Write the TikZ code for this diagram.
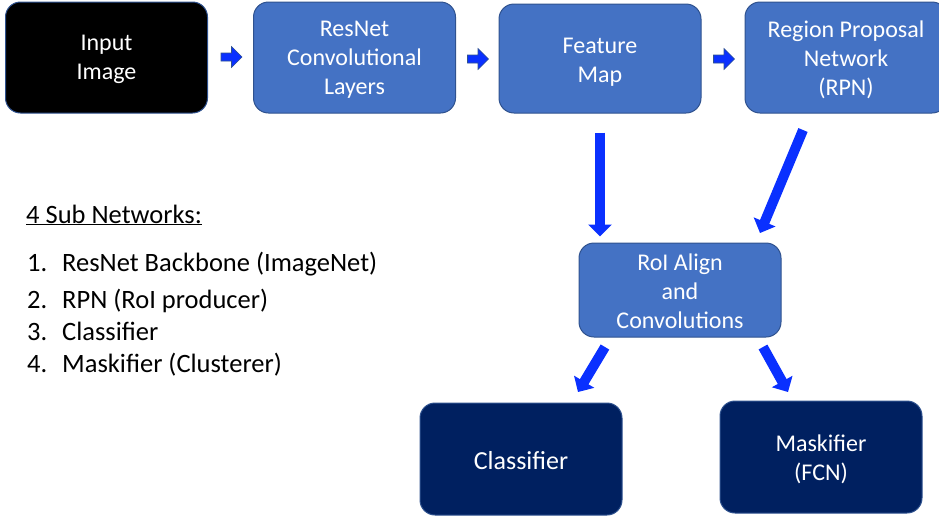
\documentclass[tikz,border=0pt]{standalone}
\usepackage{fontspec}
\setmainfont{Carlito}
\usetikzlibrary{arrows.meta,calc}
\definecolor{boxblue}{RGB}{68,114,196}
\definecolor{boxedge}{RGB}{47,82,143}
\definecolor{navy}{RGB}{0,32,96}
\definecolor{arrblue}{RGB}{10,48,255}
\begin{document}
\begin{tikzpicture}[x=1pt,y=-1pt,
  box/.style={draw=boxedge, line width=1pt, rounded corners=15pt, fill=boxblue,
    minimum width=202pt, inner sep=0pt},
  blackbox/.style={box, fill=black},
  navybox/.style={box, fill=navy},
  boxtext/.style={text=white, align=center, inner sep=0pt, font=\fontsize{24}{29}\selectfont},
  blockarrow/.pic={\draw[draw=boxedge, line width=0.6pt, fill=arrblue]
    (-10.5,-4) -- (0,-4) -- (0,-10.5) -- (10.5,0) -- (0,10.5) -- (0,4) -- (-10.5,4) -- cycle;},
  bigarrow/.style={draw=arrblue, line width=10pt, -{Triangle[width=23pt,length=12pt]}},
  listtext/.style={anchor=west, inner sep=0pt, text height=18pt, text depth=6pt,
    font=\fontsize{26.5}{31}\selectfont}
]
\useasboundingbox (0,0) rectangle (939,517);
\node[blackbox, minimum height=111pt] (inp) at (106.5,57.5) {};
\node[box, minimum height=111pt] (res) at (354.5,57.5) {};
\node[box, minimum height=109pt] (feat) at (600,58.5) {};
\node[box, minimum height=111pt] (rpn) at (846,57.5) {};
\node[box, minimum height=94pt] (roi) at (680,290) {};
\node[navybox, minimum height=112pt] (cls) at (521,459) {};
\node[navybox, minimum height=112pt] (msk) at (821,457) {};

\node[boxtext] (inpT) at ($(inp.center)+(0,2)$) {Input\\Image};
\node[boxtext] (resT) at ($(res.center)+(0,2.5)$) {ResNet\\Convolutional\\Layers};
\node[boxtext] (featT) at ($(feat.center)+(0,4)$) {Feature\\Map};
\node[boxtext] (rpnT) at ($(rpn.center)+(0,2)$) {Region Proposal\\Network\\(RPN)};
\node[boxtext] (roiT) at ($(roi.center)+(0,1)$) {RoI Align\\and\\Convolutions};
\node[boxtext, font=\fontsize{26}{31}\selectfont] (clsT) at ($(cls.center)+(0,2)$) {Classifier};
\node[boxtext] (mskT) at ($(msk.center)+(0,2)$) {Maskifier\\(FCN)};

\pic at (231.5,57) {blockarrow};
\pic at (478,59) {blockarrow};
\pic at (724,59) {blockarrow};

\coordinate (r1) at (803,130);
\coordinate (r2) at (760,233);
\coordinate (c1) at (605,347);
\coordinate (c2) at (578,392);
\coordinate (m1) at (763,347);
\coordinate (m2) at (788,392);
\draw[bigarrow, shorten <=19pt, shorten >=6pt] (feat.south) -- (feat.south |- roi.north);
\draw[bigarrow] (r1) -- (r2);
\draw[bigarrow] (c1) -- (c2);
\draw[bigarrow] (m1) -- (m2);

\node[listtext] (head) at (26,217) {\underline{4 Sub Networks:}};
\node[listtext] (n1) at (27,265) {1.};
\node[listtext] (t1) at (62,265) {ResNet Backbone (ImageNet)};
\node[listtext] (n2) at (27,302) {2.};
\node[listtext] (t2) at (62,302) {RPN (RoI producer)};
\node[listtext] (n3) at (27,334) {3.};
\node[listtext] (t3) at (62,334) {Classifier};
\node[listtext] (n4) at (27,366) {4.};
\node[listtext] (t4) at (62,366) {Maskifier (Clusterer)};
\end{tikzpicture}
\end{document}
